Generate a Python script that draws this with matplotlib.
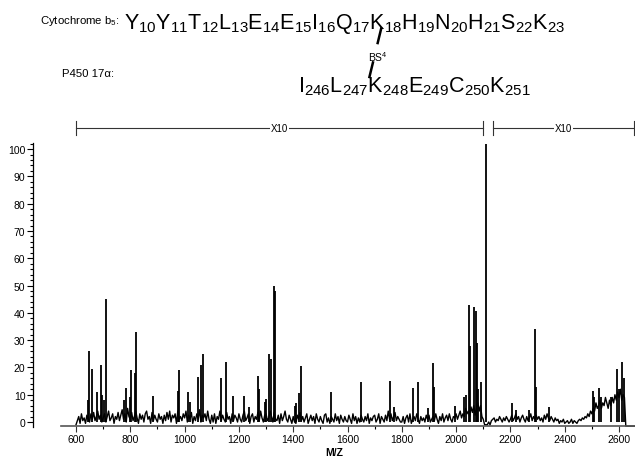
import matplotlib
matplotlib.use("Agg")
import matplotlib.pyplot as plt
from matplotlib.ticker import MultipleLocator
import matplotlib.transforms as mtransforms

plt.rcParams['font.family'] = ['Liberation Sans', 'DejaVu Sans']
plt.rcParams['mathtext.fontset'] = 'custom'
plt.rcParams['mathtext.rm'] = 'Liberation Sans'

# baseline trace, one reading every 5 m/z starting at 600
noise_start = 600
noise = [
    -1, 0.5, 2, -0.5, 3, 0.5, 1.5, -0.5, 2.5, 1, 0, 3, 1, 3.5, 0.5, 2, 4, 1, 2.5, 0,             # 600
    1.5, 3, 0, 2, 4, 0.5, 1.5, 3, -0.5, 2, 1, 3.5, 0.5, 2.5, 4.5, 1, 3, 0, 5, 2,                # 700
    1, 3.5, 0.5, 2, 4, 1.5, -0.5, 3, 1, 2.5, 0, 3, 4, 1, 2, -0.5, 3.5, 0.5, 2.5, 1,             # 800
    0, 3, 1, 2, -0.5, 2.5, 0.5, 3.5, 1, 4, 0, 2.5, 1.5, 3, -0.5, 4, 1, 2, 0.5, 3,               # 900
    1.5, 4, 0, 2.5, 1, 3.5, -0.5, 2, 0.5, 3, 1, 4.5, 0, 2.5, 1.5, 3, 0.5, 4, 1, -0.5,           # 1000
    2.5, 0, 3, -0.5, 2, 1, 4, 0.5, 2.5, 1, 0, 3.5, 1, 2, -0.5, 3, 0.5, 2.5, 1.5, 0,             # 1100
    3, 1, 0, 2.5, 4, 0.5, 1.5, 3, -0.5, 2, 3, 0, 2, 1, 3.5, 0.5, 4, 1.5, 0, 2.5,                # 1200
    3, 0.5, 1.5, 4, 2, 0, 3.5, 1, 0.5, 2.5, -0.5, 3, 0.5, 2, 4, 1, 0, 2.5, 1, -0.5,             # 1300
    2, 0, -0.5, 2.5, 1, 3.5, 0.5, 2, 0, 1.5, 3, -0.5, 1, 2.5, 0.5, 2, -0.5, 3, 1, 0,            # 1400
    2, 0.5, -0.5, 2.5, 3, 0, 1.5, -0.5, 2, 1, 0, 3, 0.5, 2, -0.5, 2.5, 1, 0, 2, 0.5,            # 1500
    0, 2.5, 1, -0.5, 3, 0.5, 2, -0.5, 1.5, 0, 2.5, 1, 0, 2, 0.5, 3, -0.5, 1.5, 0.5, 2,          # 1600
    2.5, 0, 1, 3, -0.5, 2, 1, 0, 2.5, 0.5, 4, 1, 3, 0.5, 2, 3.5, 0.5, 2, 1, 0,                  # 1700
    0, 2, -0.5, 1.5, 2.5, 0, 3, -0.5, 1, 2, 0.5, 3, 1, -0.5, 2, 0.5, 1.5, 0, 2.5, 1,            # 1800
    2.5, 0, 1, 2, 0.5, 3, 1, -0.5, 2, 0.5, 3, 0, 1.5, 2.5, 0.5, 3, 1, 0, 2, 1.5,                # 1900
    3, 1, 2.5, 4, 1.5, 3, 2, 5, 3, 4, 2, 5.5, 3.5, 6, 2.5, 5, 7, 4, 6, 2,                       # 2000
    1, -1, -1, -1, 0, -1, 0.5, 1, 1.5, 0, 1, 0.5, 2, 1, 0, 1.5, 0.5, 2, 1, 0,                   # 2100
    1, 2.5, 0.5, 1.5, 3, 1, 2, 0, 1.5, 2.5, 1, 0, 2, 0.5, 1.5, 3, 0.5, 2, 1, 2.5,               # 2200
    1, 2, 0.5, 1.5, 0, 2.5, 1, 3, 1.5, 0.5, 2, 1, 0, 1.5, 0.5, 1, -0.5, 0.5, 0, 1,              # 2300
    -0.5, 0, 0.5, -0.5, 0, 1, -0.5, 0.5, 0, -0.5, 0.5, 1, 0.5, 1.5, 1, 2, 1.5, 3, 2, 4,         # 2400
    3, 5, 4, 7, 5, 6, 8, 5, 7, 6, 9, 7, 5, 8, 6, 9, 7, 10, 8, 11,                               # 2500
    9, 12, 8, 10, 9, -1.5, -1.5, -1.5, -1.5, -1.5, -1.5, -1.5, -1.5,                            # 2600
]
noise_mz = [noise_start + 5 * i for i in range(len(noise))]

# resolved peaks (m/z, relative intensity)
peak_mz = [643, 649, 658, 677, 692, 695, 704, 710, 778, 784, 799, 803, 817,
           821, 882, 975, 979, 1011, 1020, 1049, 1062, 1067, 1133, 1151,
           1177, 1218, 1236, 1269, 1274, 1296, 1300, 1312, 1317, 1330, 1333,
           1407, 1412, 1422, 1429, 1539, 1649, 1757, 1772, 1840, 1858, 1897,
           1915, 1920, 1996, 2029, 2036, 2047, 2052, 2065, 2072, 2076, 2080,
           2090, 2109, 2206, 2220, 2270, 2290, 2295, 2343, 2503, 2508, 2527,
           2535, 2572, 2592, 2601, 2610, 2617]
peak_int = [8, 26, 19.5, 11, 21, 10, 8, 45, 8, 12.5, 9, 19, 18,
            33, 9.5, 11.5, 19, 11, 7.5, 16.5, 21, 25, 16, 22,
            9.5, 9.5, 5.5, 17, 12, 7.5, 8.5, 25, 23, 50, 48,
            6, 7, 10.5, 20.5, 11, 14.5, 15, 5.5, 12.5, 14.5, 5,
            21.5, 13, 6, 9, 10, 43, 28, 42, 40.5, 29, 12,
            14.5, 102, 7, 4.5, 4.5, 34, 13, 5.5, 11.5, 9, 12.5,
            9, 9, 19.5, 12, 22, 16]

# magnification brackets
x10_ranges = [(600, 2100), (2137, 2655)]
x10_label = "X10"

cyt_res = ['Y', 'Y', 'T', 'L', 'E', 'E', 'I', 'Q', 'K', 'H', 'N', 'H', 'S', 'K']
cyt_num = [10, 11, 12, 13, 14, 15, 16, 17, 18, 19, 20, 21, 22, 23]
p450_res = ['I', 'L', 'K', 'E', 'C', 'K']
p450_num = [246, 247, 248, 249, 250, 251]
cyt_link = 18     # cross-linked lysines
p450_link = 248

W, H = 635, 460
fig = plt.figure(figsize=(W / 100, H / 100), dpi=100)
ax = fig.add_axes([33 / W, (H - 428) / H, 602 / W, 285 / H])

ax.plot(noise_mz, noise, color='black', lw=1.0)
ax.vlines(peak_mz, 0, peak_int, color='black', lw=1.3)

ax.set_xlim(441.6, 2658.9)
ax.set_ylim(-1.83, 102.6)

for s in ['top', 'right']:
    ax.spines[s].set_visible(False)
ax.spines['left'].set_bounds(-1.8, 102.3)
ax.spines['left'].set_linewidth(0.9)
ax.spines['bottom'].set_position(('data', -1.5))
ax.spines['bottom'].set_bounds(545, 2659)
ax.spines['bottom'].set_color('#555555')
ax.spines['bottom'].set_linewidth(1.2)

ax.set_xticks(range(600, 2601, 200))
ax.set_xticks(range(700, 2660, 200), minor=True)
ax.yaxis.set_major_locator(MultipleLocator(10))
ax.yaxis.set_minor_locator(MultipleLocator(2))
ax.tick_params(axis='both', which='major', labelsize=7.5, length=4, width=0.8, pad=1.5)
ax.tick_params(axis='both', which='minor', length=2, width=0.8)
ax.tick_params(axis='x', colors='#333333', labelcolor='black')
ax.set_xlabel('M/Z', fontsize=7.5, fontweight='bold', labelpad=2)

# X10 brackets above the axes
trans = mtransforms.blended_transform_factory(ax.transData, ax.transAxes)
yb = 1.049
for x0, x1 in x10_ranges:
    ax.plot([x0, x1], [yb, yb], color='#333333', lw=0.8, transform=trans, clip_on=False)
    ax.plot([x0, x0], [yb - 0.025, yb + 0.025], color='#333333', lw=0.8, transform=trans, clip_on=False)
    ax.plot([x1, x1], [yb - 0.025, yb + 0.025], color='#333333', lw=0.8, transform=trans, clip_on=False)
    ax.text((x0 + x1) / 2, yb, x10_label, transform=trans, ha='center', va='center',
            fontsize=7, bbox=dict(facecolor='white', edgecolor='none', pad=0.5))


# peptide annotation
def seq_tex(res, num):
    return '$\\mathregular{' + ''.join('%s_{%d}' % (r, n) for r, n in zip(res, num)) + '}$'


def px(x, y):
    return x / W, 1 - y / H


seq_size = 15.5
renderer = fig.canvas.get_renderer()


def prefix_width(res, num, upto):
    k = num.index(upto)
    if k == 0:
        return 0.0
    t = fig.text(0, 0, seq_tex(res[:k], num[:k]), fontsize=seq_size)
    w = t.get_window_extent(renderer).width
    t.remove()
    return w


top_x, top_base = 124, 29
bot_x, bot_base = 298, 92

fig.text(*px(40, 24), 'Cytochrome b$_5$:', fontsize=8.2, va='baseline')
fig.text(*px(top_x, top_base), seq_tex(cyt_res, cyt_num), fontsize=seq_size, va='baseline')
fig.text(*px(62, 77), 'P450 17α:', fontsize=8.2, va='baseline')
fig.text(*px(bot_x, bot_base), seq_tex(p450_res, p450_num), fontsize=seq_size, va='baseline')

# BS4 cross-link between the two lysines
k_top = top_x + prefix_width(cyt_res, cyt_num, cyt_link)
k_bot = bot_x + prefix_width(p450_res, p450_num, p450_link)
tx, ty = k_top + 11, top_base + 0.5
bx, by = k_bot + 1, bot_base - 14
seg = [(tx, ty), (tx + 0.3 * (bx - tx), ty + 0.3 * (by - ty))]
fig.add_artist(plt.Line2D([seg[0][0] / W, seg[1][0] / W], [1 - seg[0][1] / H, 1 - seg[1][1] / H],
                          color='black', lw=1.8))
seg = [(tx + 0.7 * (bx - tx), ty + 0.7 * (by - ty)), (bx, by)]
fig.add_artist(plt.Line2D([seg[0][0] / W, seg[1][0] / W], [1 - seg[0][1] / H, 1 - seg[1][1] / H],
                          color='black', lw=1.8))
fig.text(*px((tx + bx) / 2 + 3, (ty + by) / 2 + 3), 'BS$^4$', fontsize=7.5, ha='center', va='center')

fig.savefig('out.png', dpi=100)
